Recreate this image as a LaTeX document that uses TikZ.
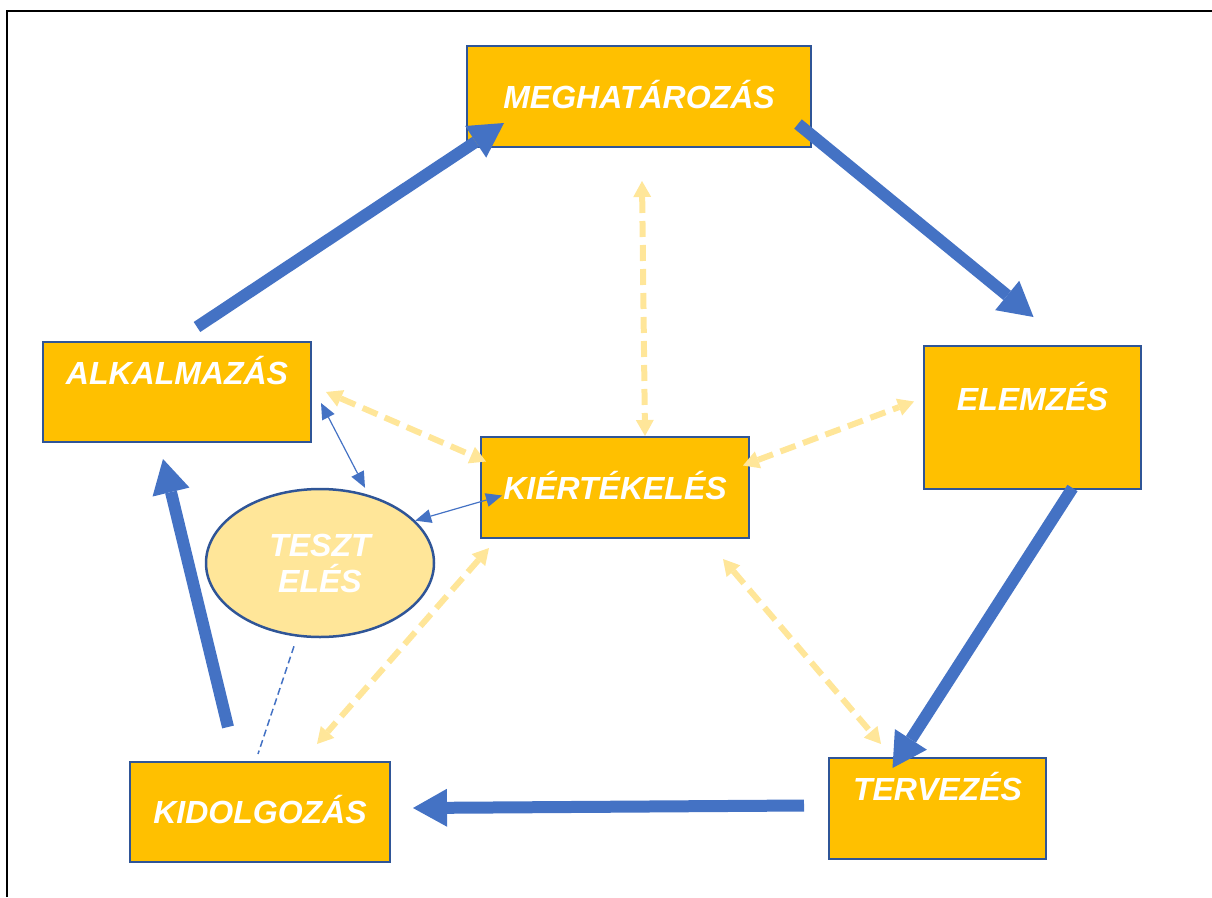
\documentclass[tikz,border=0pt]{standalone}
\usepackage{fontspec}
\setmainfont{Liberation Sans}
\usetikzlibrary{arrows.meta,shapes.geometric}
\definecolor{phase_gold}{HTML}{FFC000}
\definecolor{phase_edge}{HTML}{2F5597}
\definecolor{flow_blue}{HTML}{4472C4}
\definecolor{test_cream}{HTML}{FFE699}
\tikzset{
  phase/.style={rectangle, draw=phase_edge, line width=2pt, fill=phase_gold, text=white, inner sep=0pt, font=\fontsize{32}{36}\selectfont\bfseries\itshape, text height=23pt, text depth=0pt},
  flow/.style={-{Triangle[length=34pt,width=38pt,line width=0pt]}, line width=12pt, draw=flow_blue},
  feedback/.style={{Triangle[length=16pt,width=18pt,line width=0pt]}-{Triangle[length=16pt,width=18pt,line width=0pt]}, line width=6pt, draw=test_cream, dash pattern=on 16pt off 8pt},
  testlink/.style={{Triangle[length=16pt,width=14pt,line width=0pt]}-{Triangle[length=16pt,width=14pt,line width=0pt]}, line width=1.2pt, draw=flow_blue},
  testdash/.style={line width=1.5pt, draw=flow_blue, dash pattern=on 7pt off 4pt}
}

\begin{document}
\begin{tikzpicture}[x=1pt, y=-1pt]
\useasboundingbox (0,0) rectangle (1212,897);
\draw[line width=2pt] (7,897) -- (7,11) -- (1212,11);
\node (megh) [phase, minimum width=344pt, minimum height=101pt] at (639,96.5) {MEGHATÁROZÁS};
\node (alk) [phase, minimum width=268pt, minimum height=100pt, text depth=38pt] at (177,392) {ALKALMAZÁS};
\node (elem) [phase, minimum width=217pt, minimum height=143pt, text depth=37pt] at (1032.5,417.5) {ELEMZÉS};
\node (kier) [phase, minimum width=268pt, minimum height=101pt] at (615,487.5) {KIÉRTÉKELÉS};
\node (terv) [phase, minimum width=217pt, minimum height=101pt, text depth=40pt] at (937.5,808.5) {TERVEZÉS};
\node (kid) [phase, minimum width=260pt, minimum height=100pt] at (260,812) {KIDOLGOZÁS};
\node (tesz) [ellipse, draw=phase_edge, line width=2.5pt, fill=test_cream, minimum width=228pt, minimum height=148pt, inner sep=0pt, text=white, align=center, font=\fontsize{32}{36}\selectfont\bfseries\itshape] at (320,563) {TESZT\\ELÉS};
% main cycle
\draw[flow] ([xshift=20pt,yshift=14pt]alk.north) -- ([xshift=38pt,yshift=25pt]megh.south west);
\draw[flow] ([xshift=-14pt,yshift=24pt]megh.south east) -- ([xshift=1pt,yshift=28pt]elem.north);
\draw[flow] ([xshift=40pt,yshift=2pt]elem.south) -- ([xshift=-45pt,yshift=-11pt]terv.north);
\draw[flow] ([xshift=-24pt,yshift=3pt]terv.west) -- ([xshift=22pt,yshift=4pt]kid.east);
\draw[flow] ([xshift=-32pt,yshift=34pt]kid.north) -- ([xshift=-14pt,yshift=-16pt]alk.south);
% evaluation links
\draw[feedback] ([xshift=3pt,yshift=-33pt]megh.south) -- ([xshift=30pt]kier.north);
\draw[feedback] ([xshift=-7pt,yshift=22pt]kier.east) -- ([xshift=-9pt,yshift=16pt]elem.west);
\draw[feedback] ([xshift=14pt]alk.east) -- ([xshift=6pt,yshift=26pt]kier.west);
\draw[feedback] ([xshift=9pt,yshift=-9pt]kier.south west) -- ([xshift=57pt,yshift=17pt]kid.north);
\draw[feedback] ([xshift=-27pt,yshift=-20pt]kier.south east) -- ([xshift=53pt,yshift=13pt]terv.north west);
% testing
\draw[testlink] ([xshift=9pt,yshift=-11pt]alk.east) -- ([xshift=45pt]tesz.north);
\draw[testlink] (tesz.24) -- ([xshift=22pt,yshift=-8pt]kier.west);
\draw[testdash] ([xshift=-26pt,yshift=-8pt]tesz.south) -- ([xshift=-2pt,yshift=7pt]kid.north);
\end{tikzpicture}
\end{document}
